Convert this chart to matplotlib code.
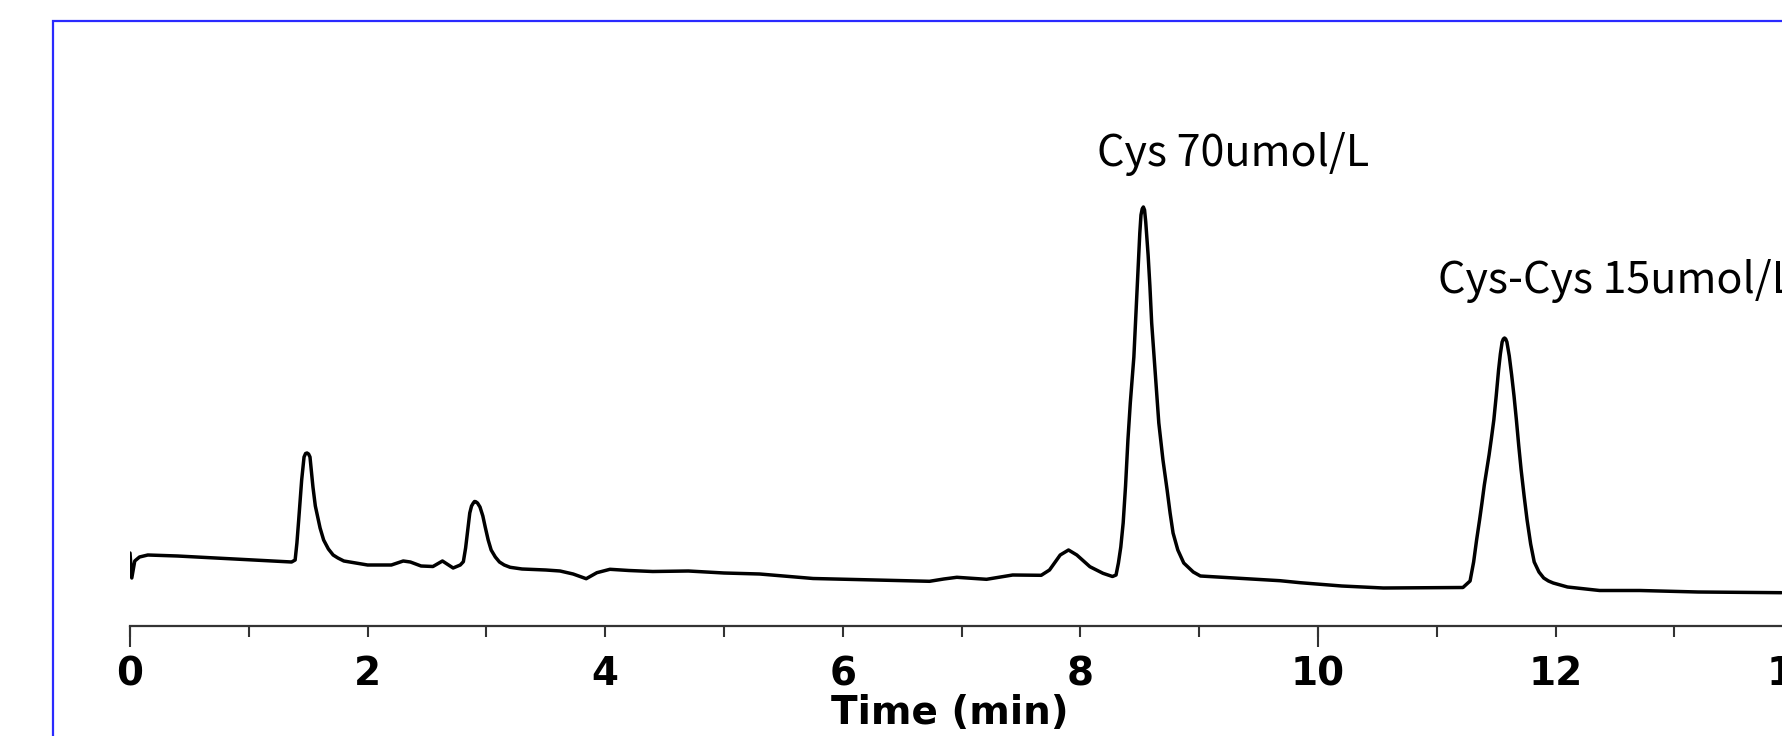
import matplotlib
matplotlib.use("Agg")
import matplotlib.pyplot as plt
from matplotlib.patches import Rectangle

# chromatogram trace (time in min, detector signal in mV)
TIME_MIN = [
    0.00, 0.015, 0.04, 0.08, 0.15, 0.40, 0.80, 1.20, 1.36, 1.39,
    1.405, 1.42, 1.445, 1.465, 1.478, 1.49, 1.503, 1.515, 1.54, 1.56,
    1.585, 1.60, 1.63, 1.67, 1.71, 1.75, 1.80, 1.85, 2.00, 2.20,
    2.30, 2.36, 2.45, 2.55, 2.63, 2.72, 2.78, 2.806, 2.825, 2.84,
    2.86, 2.875, 2.89, 2.90, 2.91, 2.925, 2.946, 2.97, 2.99, 3.015,
    3.04, 3.075, 3.11, 3.15, 3.20, 3.30, 3.50, 3.62, 3.73, 3.84,
    3.93, 4.04, 4.20, 4.40, 4.70, 5.00, 5.30, 5.75, 6.37, 6.73,
    6.85, 6.96, 7.21, 7.43, 7.67, 7.74, 7.83, 7.90, 7.97, 8.08,
    8.19, 8.27, 8.30, 8.32, 8.34, 8.36, 8.38, 8.40, 8.42, 8.45,
    8.47, 8.49, 8.50, 8.51, 8.52, 8.53, 8.54, 8.55, 8.57, 8.585,
    8.60, 8.63, 8.66, 8.695, 8.73, 8.755, 8.78, 8.82, 8.87, 8.95,
    9.01, 9.30, 9.68, 9.85, 10.20, 10.55, 11.22, 11.28, 11.31, 11.335,
    11.36, 11.38, 11.40, 11.42, 11.44, 11.46, 11.48, 11.50, 11.52, 11.535,
    11.55, 11.56, 11.57, 11.58, 11.59, 11.61, 11.63, 11.65, 11.67, 11.69,
    11.71, 11.735, 11.76, 11.79, 11.82, 11.86, 11.90, 11.94, 11.98, 12.10,
    12.37, 12.71, 13.20, 13.90,
]
SIGNAL_MV = [
    7.3, 4.8, 6.5, 6.9, 7.1, 7.0, 6.75, 6.5, 6.4, 6.6,
    8.3, 10.6, 14.6, 16.9, 17.25, 17.3, 17.2, 16.9, 13.9, 12.0,
    10.6, 9.8, 8.6, 7.7, 7.1, 6.8, 6.5, 6.4, 6.1, 6.1,
    6.5, 6.4, 6.0, 5.95, 6.5, 5.8, 6.1, 6.43, 7.8, 9.3,
    11.3, 12.0, 12.3, 12.45, 12.43, 12.3, 11.9, 11.0, 9.9, 8.6,
    7.6, 6.9, 6.4, 6.1, 5.87, 5.7, 5.6, 5.5, 5.2, 4.73,
    5.33, 5.67, 5.55, 5.45, 5.5, 5.3, 5.2, 4.75, 4.57, 4.47,
    4.7, 4.87, 4.67, 5.1, 5.07, 5.6, 7.1, 7.6, 7.1, 5.93,
    5.27, 4.95, 5.1, 6.3, 7.9, 10.3, 14.0, 18.6, 22.3, 26.9,
    31.8, 36.9, 39.3, 41.1, 41.7, 41.9, 41.6, 40.4, 37.1, 34.0,
    30.3, 25.3, 20.3, 16.6, 13.6, 11.3, 9.3, 7.6, 6.3, 5.4,
    5.0, 4.8, 4.53, 4.33, 4.0, 3.8, 3.85, 4.5, 6.4, 8.6,
    10.6, 12.3, 14.1, 15.6, 17.1, 18.8, 20.6, 23.0, 25.6, 27.2,
    28.4, 28.7, 28.8, 28.7, 28.4, 27.0, 25.1, 23.0, 20.6, 18.0,
    15.6, 13.0, 10.6, 8.2, 6.4, 5.4, 4.8, 4.5, 4.3, 3.9,
    3.55, 3.55, 3.4, 3.33,
]

# peak labels: text, time where the label starts, height of its baseline
PEAK_LABELS = ["Cys 70umol/L", "Cys-Cys 15umol/L"]
LABEL_TIME = [8.14, 11.01]
LABEL_MV = [46.0, 33.3]

MAJOR_TICKS = [0, 2, 4, 6, 8, 10, 12, 14]
MINOR_TICKS = [1, 3, 5, 7, 9, 11, 13]
LONG_TICKS = [0, 10]

W, H = 1782, 736
fig = plt.figure(figsize=(W / 100, H / 100), dpi=100)

# axes: 0 min sits at x=130 px, 118.8 px per minute; runs past the right edge
ax = fig.add_axes([130 / W, 110 / H, 15 * 118.8 / W, 600 / H])
ax.plot(TIME_MIN, SIGNAL_MV, color="black", lw=2.5,
        solid_joinstyle="round", solid_capstyle="round")
ax.set_xlim(0, 15)
ax.set_ylim(0, 60)

for s in ["top", "right", "left"]:
    ax.spines[s].set_visible(False)
ax.spines["bottom"].set_color("#333333")
ax.spines["bottom"].set_linewidth(1.6)
ax.set_yticks([])

ax.set_xticks(MAJOR_TICKS)
ax.set_xticks(MINOR_TICKS, minor=True)
ax.tick_params(axis="x", which="both", direction="out", length=8, width=1.5,
               color="#333333")
ax.tick_params(axis="x", which="major", pad=13, labelsize=28)
for lab in ax.get_xticklabels():
    lab.set_fontweight("bold")
    lab.set_family("DejaVu Sans")

sec = ax.secondary_xaxis("bottom")
sec.set_xticks(LONG_TICKS)
sec.tick_params(length=15, width=1.5, color="#333333", labelbottom=False)
sec.spines["bottom"].set_visible(False)

ax.set_xlabel("Time (min)", fontsize=28, fontweight="bold", family="DejaVu Sans")
ax.xaxis.label.set_va("center")
ax.xaxis.set_label_coords(6.9 / 15, -0.145)

for txt, t, v in zip(PEAK_LABELS, LABEL_TIME, LABEL_MV):
    ax.text(t, v, txt, ha="left", va="baseline", fontsize=31,
            family=["Noto Sans CJK JP", "DejaVu Sans"], clip_on=False)

# blue frame around the picture (open to the right and bottom)
fig.add_artist(Rectangle((53 / W, -0.1), 2.0, (H - 21) / H + 0.1,
                         transform=fig.transFigure, fill=False,
                         edgecolor="#2a2aff", lw=1.6))

fig.savefig("out.png", dpi=100)
